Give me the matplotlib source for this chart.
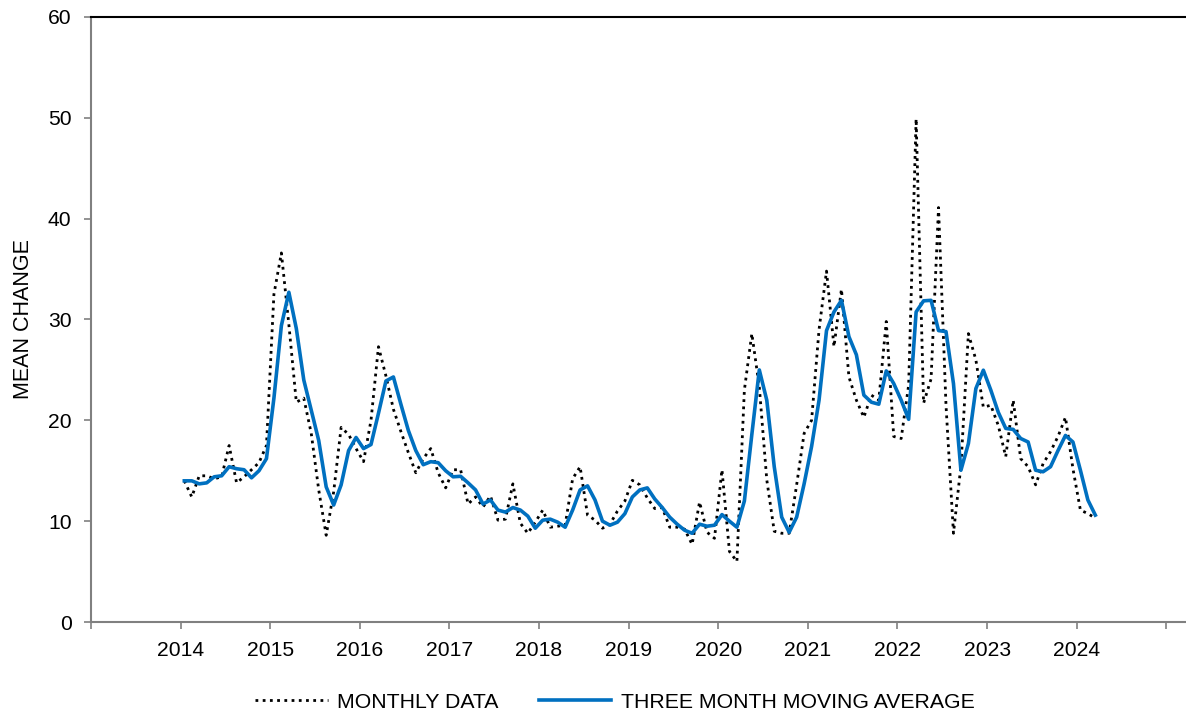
import numpy as np
import matplotlib
matplotlib.use("Agg")
import matplotlib.pyplot as plt
from matplotlib.ticker import FixedLocator, FixedFormatter

plt.rcParams['font.family'] = ['Liberation Sans', 'DejaVu Sans']

# ==========================================================
# DATA  (monthly, Jan 2014 .. Mar 2024)
# ==========================================================

start_year = 2014

monthly_data = [
    14.0, 12.4, 14.5, 14.5, 14.2, 14.4, 17.5, 13.8, 14.4, 15.1, 15.8, 17.5,   # 2014
    32.5, 36.6, 29.5, 21.8, 22.2, 18.7, 13.1, 8.6, 12.9, 19.3, 18.6, 17.2,    # 2015
    15.9, 20.0, 27.3, 24.4, 21.1, 18.9, 16.8, 14.8, 16.2, 17.2, 14.8, 13.3,   # 2016
    15.1, 15.1, 11.7, 12.4, 11.4, 12.5, 10.1, 10.2, 13.7, 9.8, 8.8, 9.9,      # 2017
    11.1, 9.4, 9.5, 9.6, 14.2, 15.4, 10.6, 10.1, 9.3, 9.7, 11.0, 12.0,        # 2018
    14.05, 13.6, 12.3, 11.25, 11.35, 9.4, 9.4, 9.2, 7.7, 11.9, 8.9, 8.3,      # 2019
    15.1, 7.0, 6.0, 23.0, 28.6, 23.3, 14.1, 9.0, 8.8, 8.8, 13.6, 18.7,        # 2020
    20.0, 29.0, 34.8, 27.3, 33.0, 24.3, 22.0, 20.3, 22.5, 22.0, 29.8, 18.4,   # 2021
    18.2, 23.5, 49.9, 21.7, 24.1, 41.1, 21.5, 8.8, 15.5, 28.6, 26.0, 21.3,    # 2022
    21.5, 19.5, 16.4, 22.0, 16.2, 15.4, 13.6, 15.7, 16.9, 18.4, 20.3, 15.2,   # 2023
    11.1, 10.75, 10.3,                                                        # 2024
]

moving_average = [
    14.0, 14.0, 13.7, 13.8, 14.4, 14.5, 15.4, 15.2, 15.1, 14.3, 15.0, 16.2,   # 2014
    22.2, 29.4, 32.7, 29.1, 24.0, 21.0, 18.0, 13.4, 11.6, 13.6, 17.0, 18.3,   # 2015
    17.2, 17.6, 20.7, 23.9, 24.3, 21.6, 19.0, 17.0, 15.6, 15.9, 15.8, 15.0,   # 2016
    14.4, 14.45, 13.8, 13.1, 11.7, 12.1, 11.1, 10.9, 11.35, 11.1, 10.5, 9.3,  # 2017
    10.1, 10.2, 9.9, 9.4, 11.1, 13.1, 13.5, 12.1, 10.0, 9.6, 9.9, 10.75,      # 2018
    12.4, 13.1, 13.3, 12.2, 11.35, 10.4, 9.7, 9.1, 8.8, 9.7, 9.5, 9.6,        # 2019
    10.65, 10.0, 9.4, 12.0, 18.6, 25.0, 22.0, 15.4, 10.4, 8.9, 10.4, 13.7,    # 2020
    17.4, 22.0, 28.9, 30.75, 31.9, 28.3, 26.5, 22.5, 21.8, 21.6, 24.9, 23.65, # 2021
    22.0, 20.1, 30.75, 31.85, 31.9, 28.9, 28.8, 23.65, 15.05, 17.7, 23.15, 24.97,  # 2022
    23.0, 20.8, 19.2, 19.1, 18.2, 17.85, 15.05, 14.9, 15.4, 17.0, 18.5, 17.85,     # 2023
    15.05, 12.1, 10.6,                                                        # 2024
]

year_ticks = list(range(2013, 2026))
year_labels = [''] + [str(y) for y in range(2014, 2025)] + ['']

# mid-month positions in decimal years
months = np.arange(len(monthly_data))
x = start_year + (months + 0.5) / 12

# ==========================================================
# PLOT
# ==========================================================

fig = plt.figure(figsize=(11.86, 7.19), dpi=100)
ax = fig.add_axes([0.0767, 0.1349, 0.9233, 0.8415])

ax.plot(x, monthly_data, color='black', linewidth=2.0,
        linestyle=(0, (1, 1.6)), label='MONTHLY DATA')
ax.plot(x, moving_average, color='#0070C0', linewidth=2.6,
        label='THREE MONTH MOVING AVERAGE')

ax.set_xlim(2013, 2025.22)
ax.set_ylim(0, 60)
ax.set_yticks(range(0, 61, 10))
ax.xaxis.set_major_locator(FixedLocator(year_ticks))
ax.xaxis.set_major_formatter(FixedFormatter(year_labels))

ax.set_ylabel('MEAN CHANGE', fontsize=15.5, labelpad=10)

ax.tick_params(axis='both', labelsize=15.2, colors='#808080',
               labelcolor='black', length=5, width=1.2)
ax.tick_params(axis='x', pad=9)
ax.tick_params(axis='y', pad=9)

for side in ['left', 'bottom']:
    ax.spines[side].set_color('#808080')
    ax.spines[side].set_linewidth(1.5)
ax.spines['right'].set_visible(False)
ax.spines['top'].set_color('black')
ax.spines['top'].set_linewidth(1.5)

fig.legend(loc='center', bbox_to_anchor=(0.5186, 0.0236), ncol=2,
           frameon=False, fontsize=15.3, handlelength=3.4,
           handletextpad=0.45, columnspacing=1.9)

fig.savefig('out.png', dpi=100)
